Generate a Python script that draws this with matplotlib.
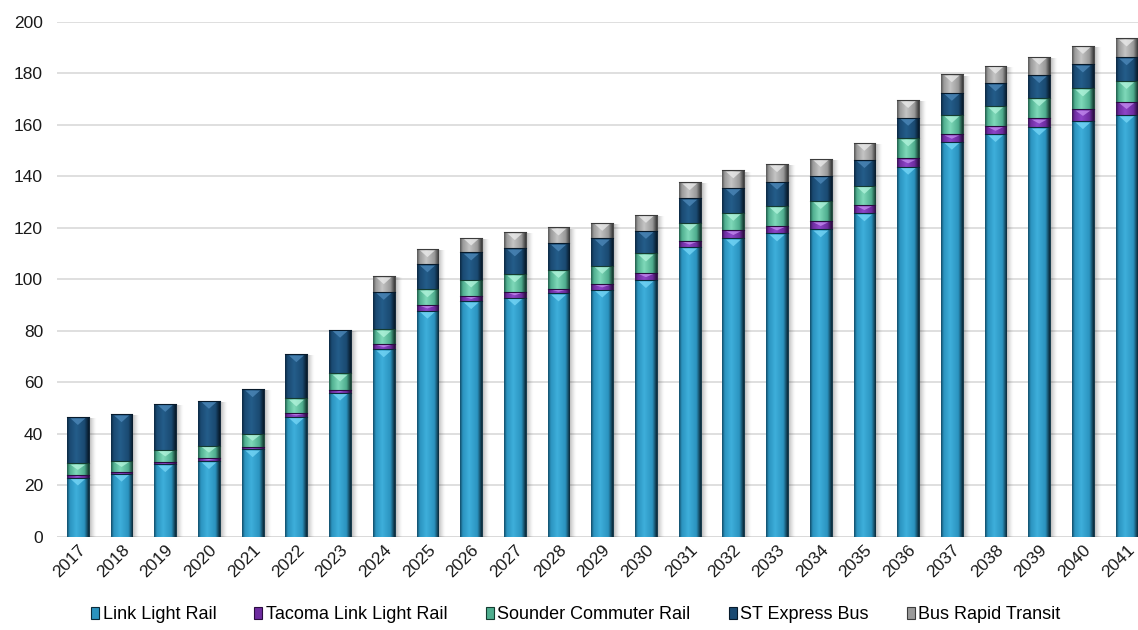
import numpy as np
import matplotlib
matplotlib.use("Agg")
import matplotlib.pyplot as plt
from matplotlib.colors import LinearSegmentedColormap, to_rgba
from matplotlib.patches import Patch, Polygon

# data (millions of riders)
years = [str(y) for y in range(2017, 2042)]
link = [23, 24.5, 28.2, 29.4, 34, 46.6, 56, 72.8, 87.8, 91.5, 92.9, 94.5, 96,
        99.7, 112.5, 115.9, 117.8, 119.4, 125.6, 143.7, 153.4, 156.4, 159, 161.4, 163.8]
tacoma = [1, 0.8, 0.9, 1, 1, 1.3, 1, 2, 2.2, 2.1, 2.2, 1.7, 2.1,
          2.8, 2.4, 3.2, 2.9, 3.2, 3.2, 3.2, 2.9, 3.1, 3.5, 4.6, 5.1]
sounder = [4.5, 4.2, 4.7, 5, 5, 5.8, 6.4, 5.7, 6.1, 6.3, 6.8, 7.4, 7.1,
           7.5, 7, 6.7, 7.7, 7.8, 7.5, 7.8, 7.5, 7.8, 7.8, 8.1, 8.1]
express = [18, 18.1, 17.8, 17.4, 17.3, 17.2, 17, 14.6, 9.7, 10.5, 10.1, 10.3, 10.7,
           8.8, 9.5, 9.7, 9.5, 9.7, 10, 8, 8.6, 8.8, 9, 9.3, 9.2]
brt = [0, 0, 0, 0, 0, 0, 0, 6.1, 5.9, 5.8, 6.3, 6.2, 6.0,
       6.2, 6.3, 6.8, 6.8, 6.6, 6.7, 6.9, 7.2, 6.8, 7.1, 7.2, 7.3]

names = ["Link Light Rail", "Tacoma Link Light Rail", "Sounder Commuter Rail",
         "ST Express Bus", "Bus Rapid Transit"]
series = [link, tacoma, sounder, express, brt]
# edge, mid, light, dark edge, chevron highlight
palettes = [
    ("#13506d", "#2b93bf", "#3eafdb", "#0b2a3a", "#78d8f8"),
    ("#3a1458", "#6e2ca0", "#8e45c8", "#2a0c40", "#c58ef0"),
    ("#23604e", "#4fae8f", "#7fd9b9", "#143c30", "#b4f5dd"),
    ("#0c2a44", "#1a4a72", "#245d8a", "#071a2b", "#4f8abb"),
    ("#5a5a5a", "#9a9a9a", "#c4c4c4", "#3c3c3c", "#ececec"),
]

fig = plt.figure(figsize=(11.38, 6.30), dpi=100)
ax = fig.add_axes([0.050, 0.148, 0.950, 0.8175])

x = np.arange(len(years))
w = 0.5
t = np.linspace(0, 1, 48)
bottom = np.zeros(len(years))
totals = np.sum(series, axis=0)

# soft shadow on the right of every bar
sh = np.zeros((1, 24, 4))
sh[0, :, 3] = np.linspace(0.45, 0.0, 24) ** 1.5
for i, tot in enumerate(totals):
    ax.imshow(sh, extent=(x[i] + w / 2, x[i] + w / 2 + 0.17, 0, tot - 0.6),
              aspect="auto", interpolation="bilinear", zorder=2)

for vals, pal, name in zip(series, palettes, names):
    edge, mid, light, dark, hi = pal
    cmap = LinearSegmentedColormap.from_list(
        name, [(0, edge), (0.12, mid), (0.42, light), (0.8, mid), (1, dark)])
    grad = cmap(t)[None, :, :]
    bars = ax.bar(x, vals, w, bottom=bottom, color=mid, edgecolor=dark,
                  linewidth=0.6, zorder=3, label=name)
    for p, v in zip(bars.patches, vals):
        if v <= 0:
            p.set_visible(False)
            continue
        x0, y0, pw, ph = p.get_x(), p.get_y(), p.get_width(), p.get_height()
        im = ax.imshow(grad, extent=(x0, x0 + pw, y0, y0 + ph), aspect="auto",
                       interpolation="bilinear", zorder=3.5)
        im.set_clip_path(p)
        # beveled top: light chevron
        d = min(ph * 0.45, 2.6)
        top = y0 + ph - min(0.5, ph * 0.15)
        cx = x0 + pw / 2
        tri = Polygon([(cx - pw * 0.34, top), (cx + pw * 0.34, top), (cx, top - d)],
                      closed=True, facecolor=to_rgba(hi, 0.75), edgecolor="none",
                      zorder=4)
        ax.add_patch(tri)
        ax.plot([x0, x0 + pw], [y0 + ph, y0 + ph], color=dark, lw=0.8, zorder=4.2)
    bottom = bottom + np.array(vals)

ax.set_xlim(-0.48, 24.26)
ax.set_ylim(0, 200)
ax.set_yticks(range(0, 201, 20))
ax.yaxis.grid(True, color="#d9d9d9", linewidth=1.2)
ax.set_axisbelow(True)
for s in ax.spines.values():
    s.set_visible(False)
ax.axhline(0, color="#d9d9d9", linewidth=1.2, zorder=1)

ax.set_xticks(x)
ax.set_xticklabels(years, rotation=45, ha="right", va="top", rotation_mode="anchor")
ax.tick_params(axis="both", length=0, labelsize=12.5, colors="#1a1a1a")
ax.tick_params(axis="y", pad=10)
ax.tick_params(axis="x", pad=4)
for lab in ax.get_xticklabels() + ax.get_yticklabels():
    lab.set_fontfamily(["Liberation Sans", "DejaVu Sans"])

handles = [Patch(facecolor=p[1], edgecolor=p[3], linewidth=0.8) for p in palettes]
fig.legend(handles, names, loc="center", bbox_to_anchor=(0.506, 0.024), ncol=5,
           frameon=False, handlelength=0.45, handleheight=0.6, handletextpad=0.2,
           columnspacing=2.1,
           prop={"family": ["Liberation Sans", "DejaVu Sans"], "size": 13})

fig.savefig("out.png", dpi=100)
